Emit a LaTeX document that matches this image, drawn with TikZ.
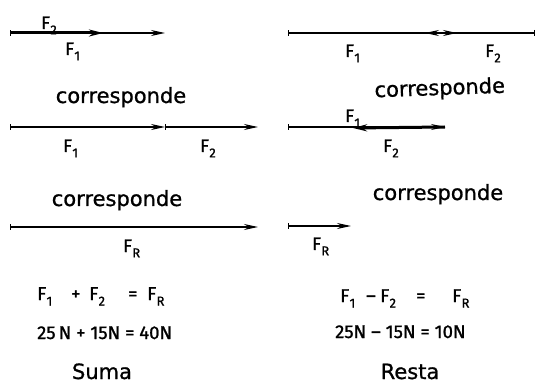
\documentclass[tikz,border=0pt]{standalone}
\usepackage{fontspec}
\setmainfont[FakeBold=0.9]{DejaVu Sans}
\newfontfamily\dinfont[FakeBold=1.2]{Fira Sans}
\usetikzlibrary{arrows.meta}
\newcommand\Fv[1]{F\kern0.3pt\raisebox{-0.3em}{\fontsize{13}{13}\selectfont #1}}
\tikzset{
  vec/.style={line width=1.3pt, {Bar[width=6pt,line width=1.3pt]}-{Stealth[length=14pt,width=6pt]}},
  thickvec/.style={line width=3pt, -{Stealth[length=14pt,width=7pt]}},
  lab/.style={font=\dinfont\fontsize{18}{18}\selectfont, anchor=base west, inner sep=0},
  eq/.style={font=\dinfont\fontsize{18.5}{18.5}\selectfont, anchor=base west, inner sep=0},
  word/.style={font=\fontsize{21}{21}\selectfont, anchor=base, inner sep=0},
}
\begin{document}
\begin{tikzpicture}[x=1pt,y=-1pt]
\useasboundingbox (0,0) rectangle (536,385);
% ---------- Suma ----------
\coordinate (l1s) at (10,33);
\coordinate (l1a) at (165,33);
\coordinate (l1b) at (103,33);
\draw[vec] (l1s) -- (l1a);
\draw[thickvec] (l1s) -- (l1b);
\node[lab] (l1F2) at (41,29) {\Fv{2}};
\node[lab] (l1F1) at (65,55) {\Fv{1}};
\node[word] (c1) at (121,103) {corresponde};
\coordinate (l3s) at (10,127);
\coordinate (l3m) at (165,127);
\coordinate (l3e) at (258,127);
\draw[vec] (l3s) -- (l3m);
\draw[vec] (l3m) -- (l3e);
\node[lab] (l3F1) at (63,152) {\Fv{1}};
\node[lab] (l3F2) at (200,152) {\Fv{2}};
\node[word] (c2) at (117,206) {corresponde};
\coordinate (l5s) at (10,227);
\coordinate (l5e) at (258,227);
\draw[vec] (l5s) -- (l5e);
\node[lab] (l5FR) at (123,252) {\Fv{R}};
% formula
\node[eq] (sa1) at (37,300) {\Fv{1}};
\node[eq] (sa2) at (71,300) {+};
\node[eq] (sa3) at (89,300) {\Fv{2}};
\node[eq] (sa4) at (128,300) {=};
\node[eq] (sa5) at (147,300) {\Fv{R}};
\node[eq] (sb) at (37,339) {25\,N + 15N = 40N};
\node[word] (suma) at (102,379) {Suma};
% ---------- Resta ----------
\coordinate (r1s) at (288,33);
\coordinate (r1a) at (457,33);
\coordinate (r1t) at (535,33);
\coordinate (r1b) at (425,33);
\draw[vec] (r1s) -- (r1a);
\draw[vec] (r1t) -- (r1b);
\node[lab] (r1F1) at (345,57) {\Fv{1}};
\node[lab] (r1F2) at (485,57) {\Fv{2}};
\node[word, rotate=2] (c3) at (440,95) {corresponde};
\coordinate (r3s) at (288,127);
\coordinate (r3a) at (445,127);
\coordinate (r3b) at (353,128);
\draw[vec] (r3s) -- (r3a);
\draw[thickvec] (r3a) -- (r3b);
\node[lab] (r3F1) at (345,122) {\Fv{1}};
\node[lab] (r3F2) at (383,152) {\Fv{2}};
\node[word] (c4) at (438,200) {corresponde};
\coordinate (r5s) at (288,226);
\coordinate (r5e) at (351,226);
\draw[vec] (r5s) -- (r5e);
\node[lab] (r5FR) at (312,250) {\Fv{R}};
% formula
\node[eq] (ra1) at (340,302) {\Fv{1}};
\node[eq] (ra2) at (366,302) {\textendash};
\node[eq] (ra3) at (380,302) {\Fv{2}};
\node[eq] (ra4) at (416,302) {=};
\node[eq] (ra5) at (452,302) {\Fv{R}};
\node[eq] (rb) at (335,338) {25N \textendash\ 15N = 10N};
\node[word] (resta) at (410,379) {Resta};
\end{tikzpicture}
\end{document}
